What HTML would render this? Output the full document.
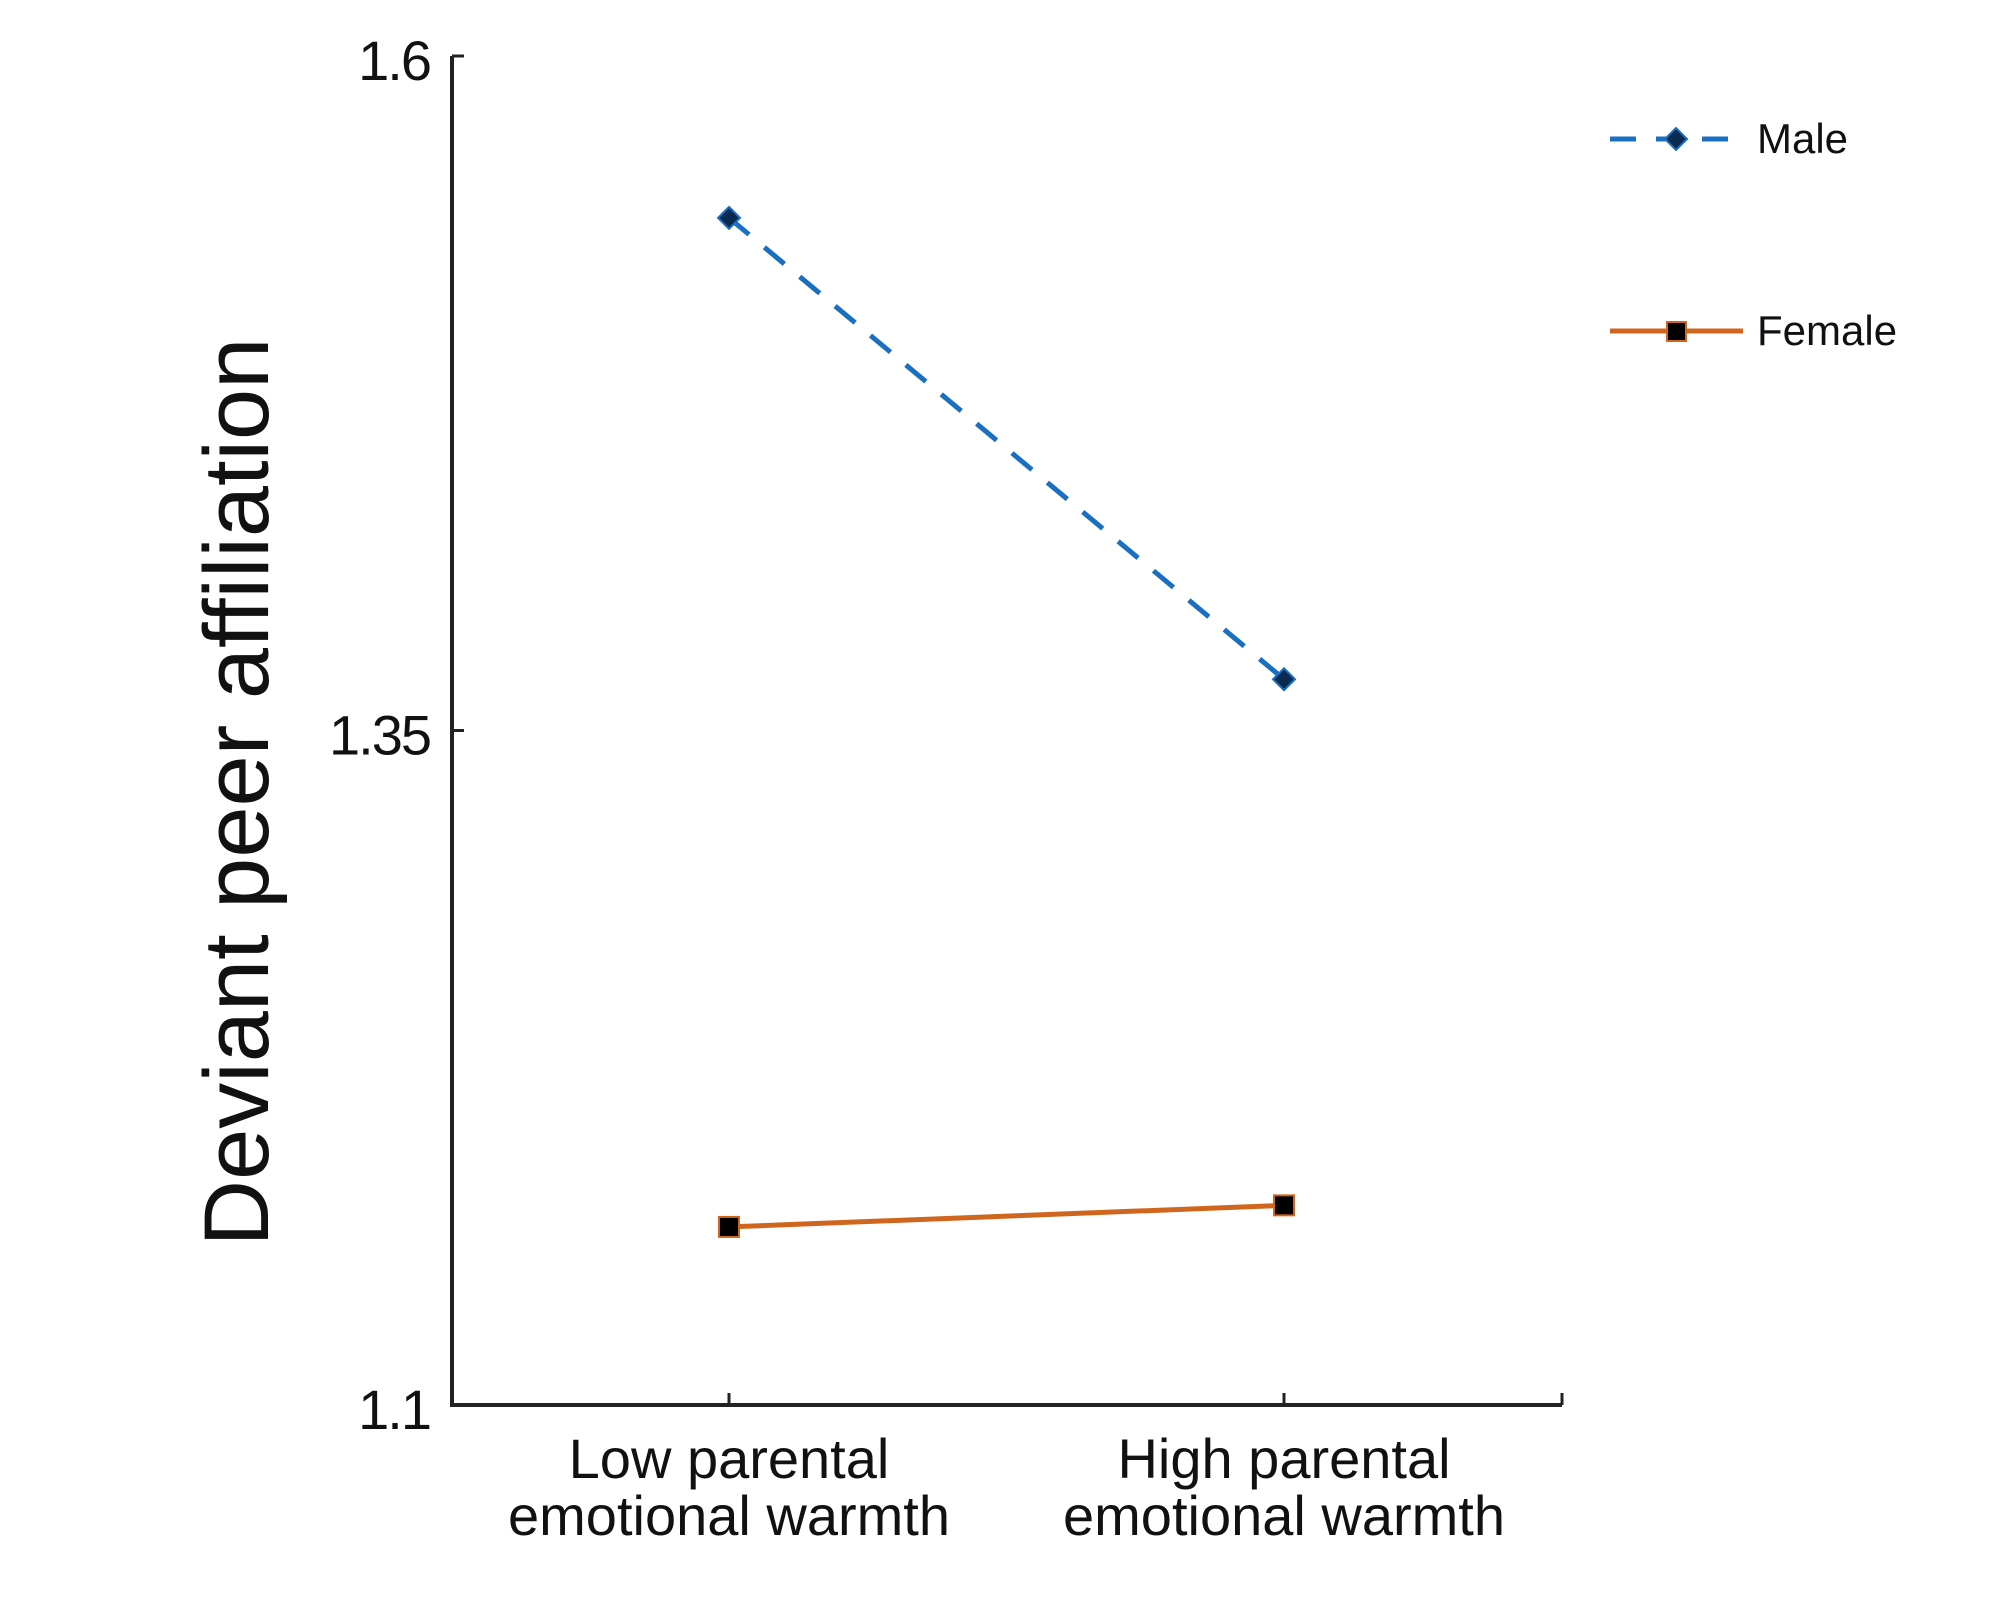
<!DOCTYPE html>
<html><head><meta charset="utf-8"><style>
html,body{margin:0;padding:0;background:#fff;}
svg{display:block;font-family:"Liberation Sans",Arial,sans-serif;}
</style></head><body>
<svg id="chart" width="2008" height="1598" viewBox="0 0 2008 1598" xmlns="http://www.w3.org/2000/svg">
<g id="axes"></g>
<g id="series"></g>
<text transform="translate(268,792) rotate(-90)" text-anchor="middle" font-size="92" fill="#111">Deviant peer affiliation</text>
<g>
  <g>
    <line x1="1610" y1="139" x2="1743" y2="139" stroke="#1a6fc0" stroke-width="5" stroke-dasharray="26,20"/>
    <polygon points="1676,128 1687,139 1676,150 1665,139" fill="#0a2a50" stroke="#1a6fc0" stroke-width="2"/>
    <text x="1757" y="153" font-size="42" fill="#111">Male</text>
  </g>
  <g>
    <line x1="1610" y1="331" x2="1743" y2="331" stroke="#d0661e" stroke-width="5"/>
    <rect x="1667" y="322" width="19" height="19" fill="#000" stroke="#d0661e" stroke-width="2"/>
    <text x="1757" y="345" font-size="42" fill="#111">Female</text>
  </g>
</g>
</svg>
<script>
const categories = ["Low parental|emotional warmth", "High parental|emotional warmth"];
const maleValues = [1.540, 1.369];
const femaleValues = [1.166, 1.174];
const yTicks = [1.1, 1.35, 1.6];
const yTickLabels = ["1.1", "1.35", "1.6"];

const NS = "http://www.w3.org/2000/svg";
const axX = 452, axR = 1562, yTop = 56, yBot = 1405, yMin = 1.1, yMax = 1.6;
const catX = [729, 1284];
function y(v){ return yBot - (v - yMin) / (yMax - yMin) * (yBot - yTop); }
function x(i){ return catX[0] + i * (catX[1] - catX[0]) / (categories.length - 1); }
function mk(tag, attrs, parent){ const e = document.createElementNS(NS, tag); for (const k in attrs) e.setAttribute(k, attrs[k]); parent.appendChild(e); return e; }

const axes = document.getElementById('axes');
let yl = mk('line', {x1:axX, y1:yTop, x2:axX, y2:yBot, stroke:'#222', 'stroke-width':4}, axes);


let xl = mk('line', {x1:axX-2, y1:yBot, x2:axR, y2:yBot, stroke:'#222', 'stroke-width':4}, axes);


let endTick = mk('line', {x1:axR, y1:yBot, x2:axR, y2:yBot-12, stroke:'#222', 'stroke-width':3}, axes);



yTicks.forEach((t, i) => {
  const tk = mk('line', {x1:axX, y1:y(t), x2:axX+12, y2:y(t), stroke:'#222', 'stroke-width':3}, axes);
  
  
  const lb = mk('text', {x:430, y:y(t)+24, 'text-anchor':'end', 'font-size':56, fill:'#111', 'letter-spacing':'-2'}, axes);
  lb.textContent = yTickLabels[i];
  
  
});
categories.forEach((c, i) => {
  const tk = mk('line', {x1:x(i), y1:yBot, x2:x(i), y2:yBot-12, stroke:'#222', 'stroke-width':3}, axes);
  
  
  const parts = c.split('|');
  parts.forEach((p, j) => {
    const lb = mk('text', {x:x(i), y:1478 + j*57, 'text-anchor':'middle', 'font-size':56, fill:'#111'}, axes);
    lb.textContent = p;
    
    
  });
});

const series = document.getElementById('series');
const mline = mk('line', {x1:x(0), y1:y(maleValues[0]), x2:x(1), y2:y(maleValues[1]), stroke:'#1a6fc0', 'stroke-width':5, 'stroke-dasharray':'26,20'}, series);


const fline = mk('line', {x1:x(0), y1:y(femaleValues[0]), x2:x(1), y2:y(femaleValues[1]), stroke:'#d0661e', 'stroke-width':5}, series);


maleValues.forEach((v, i) => {
  const cx = x(i), cy = y(v);
  const p = mk('polygon', {points:`${cx},${cy-11} ${cx+11},${cy} ${cx},${cy+11} ${cx-11},${cy}`, fill:'#0a2a50', stroke:'#1a6fc0', 'stroke-width':2}, series);
  
  
});
femaleValues.forEach((v, i) => {
  const cx = x(i), cy = y(v);
  const r = mk('rect', {x:cx-10, y:cy-10, width:20, height:20, fill:'#000', stroke:'#d0661e', 'stroke-width':2}, series);
  
  
});
</script>
</body></html>
